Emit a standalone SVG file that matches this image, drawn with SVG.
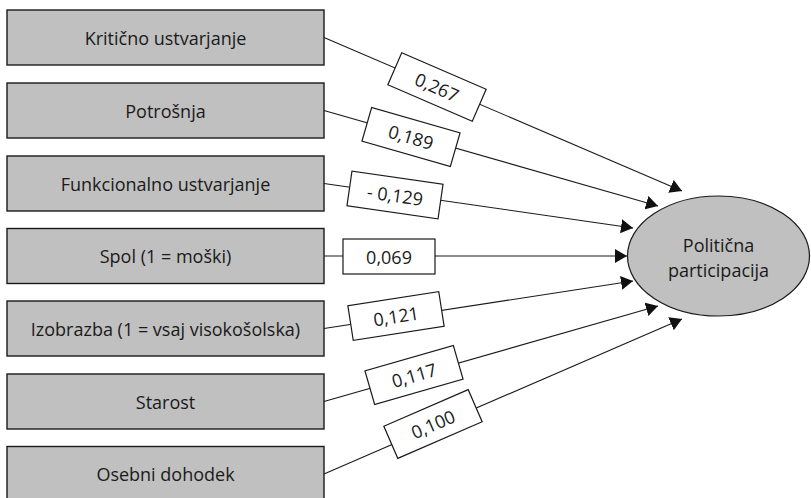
<svg xmlns="http://www.w3.org/2000/svg" width="811" height="498" viewBox="0 0 811 498">
<style>
.box{fill:#c0c0c0;stroke:#1a1a1a;stroke-width:1.4}
.lbl{fill:#fff;stroke:#1a1a1a;stroke-width:1.2}
.t{font-family:"Open Sans","Noto Sans",sans-serif;font-size:18px;fill:#1a1a1a;text-anchor:middle;dominant-baseline:central}
.c{stroke:#1a1a1a;stroke-width:1.1;fill:none;marker-end:url(#ah)}
</style>
<defs>
<marker id="ah" markerUnits="userSpaceOnUse" markerWidth="13" markerHeight="15" refX="12" refY="7" orient="auto">
<path d="M0,0 L12,7 L0,14 Z" fill="#111"/>
</marker>
</defs>
<g id="connectors">
<line class="c" x1="324" y1="37.5" x2="682" y2="191"/>
<line class="c" x1="324" y1="110.5" x2="658" y2="206"/>
<line class="c" x1="324" y1="183.5" x2="633" y2="228"/>
<line class="c" x1="324" y1="256" x2="627" y2="256"/>
<line class="c" x1="324" y1="328.5" x2="633" y2="281"/>
<line class="c" x1="324" y1="401.5" x2="658" y2="306"/>
<line class="c" x1="324" y1="474" x2="682" y2="319"/>
</g>
<g id="n1"><rect class="box" x="7" y="10" width="317" height="55"/><text class="t" x="165.5" y="37.5">Kritično ustvarjanje</text></g>
<g id="n2"><rect class="box" x="7" y="83" width="317" height="55"/><text class="t" x="165.5" y="110.5">Potrošnja</text></g>
<g id="n3"><rect class="box" x="7" y="156" width="317" height="55"/><text class="t" x="165.5" y="183.5">Funkcionalno ustvarjanje</text></g>
<g id="n4"><rect class="box" x="7" y="228.5" width="317" height="55"/><text class="t" x="165.5" y="256">Spol (1 = moški)</text></g>
<g id="n5"><rect class="box" x="7" y="301" width="317" height="55"/><text class="t" x="165.5" y="328.5">Izobrazba (1 = vsaj visokošolska)</text></g>
<g id="n6"><rect class="box" x="7" y="374" width="317" height="55"/><text class="t" x="165.5" y="401.5">Starost</text></g>
<g id="n7"><rect class="box" x="7" y="446.5" width="317" height="55"/><text class="t" x="165.5" y="474">Osebni dohodek</text></g>
<g id="target"><ellipse cx="718.5" cy="256" rx="91" ry="60" fill="#c0c0c0" stroke="#1a1a1a" stroke-width="1.2"/>
<text class="t" x="718.5" y="245">Politična</text><text class="t" x="718.5" y="270">participacija</text></g>
<g id="l1" transform="translate(437,87) rotate(23.4)"><rect class="lbl" x="-46" y="-17.5" width="92" height="35"/><text class="t" x="0" y="0">0,267</text></g>
<g id="l2" transform="translate(411,137) rotate(16.1)"><rect class="lbl" x="-46" y="-17.5" width="92" height="35"/><text class="t" x="0" y="0">0,189</text></g>
<g id="l3" transform="translate(395,195) rotate(8.2)"><rect class="lbl" x="-46" y="-17.5" width="92" height="35"/><text class="t" x="0" y="0">- 0,129</text></g>
<g id="l4" transform="translate(389,256.5)"><rect class="lbl" x="-46" y="-17.5" width="92" height="35"/><text class="t" x="0" y="0">0,069</text></g>
<g id="l5" transform="translate(396,316) rotate(-8.9)"><rect class="lbl" x="-46" y="-17.5" width="92" height="35"/><text class="t" x="0" y="0">0,121</text></g>
<g id="l6" transform="translate(414,375) rotate(-16.1)"><rect class="lbl" x="-46" y="-17.5" width="92" height="35"/><text class="t" x="0" y="0">0,117</text></g>
<g id="l7" transform="translate(433,424) rotate(-23.5)"><rect class="lbl" x="-46" y="-17.5" width="92" height="35"/><text class="t" x="0" y="0">0,100</text></g>
</svg>
